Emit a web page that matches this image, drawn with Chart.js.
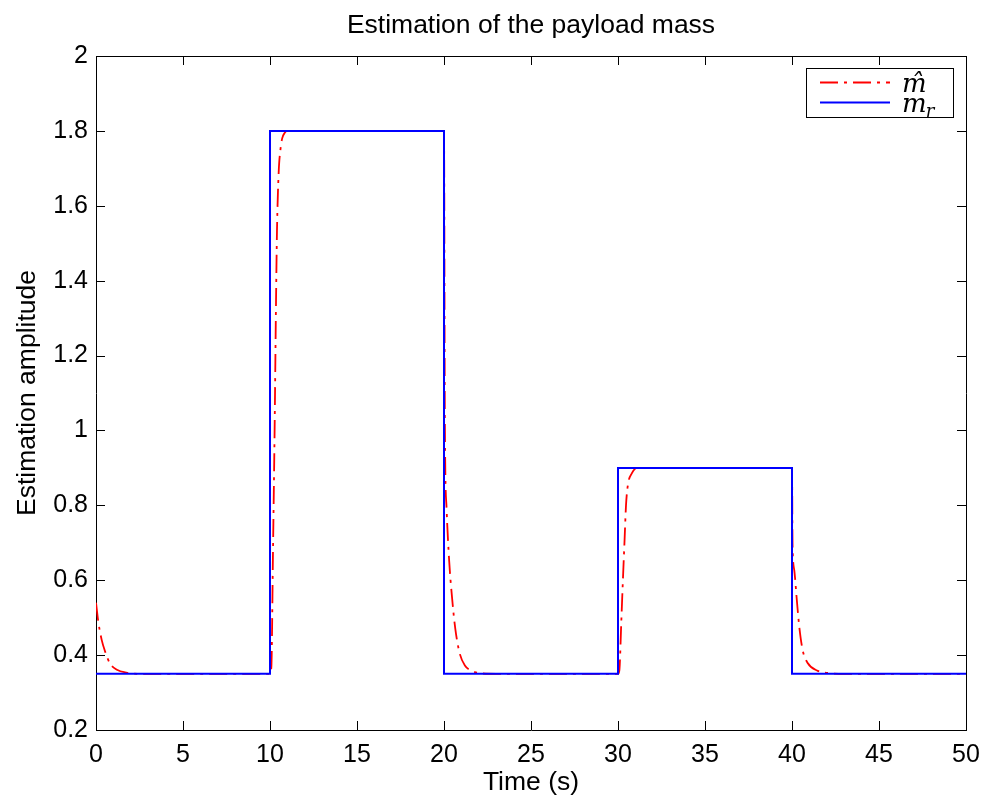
<!DOCTYPE html>
<html>
<head>
<meta charset="utf-8">
<title>Estimation of the payload mass</title>
<script src="https://cdn.jsdelivr.net/npm/chart.js@4.4.1/dist/chart.umd.min.js"></script>
<style>
  html, body { margin: 0; padding: 0; background: #fff; }
  #wrap { width: 986px; height: 805px; }
</style>
</head>
<body>
<div id="wrap"><canvas id="graficoMassa" width="986" height="805"></canvas></div>
<script>
// massa di riferimento (gradini)
const refTime = [0, 10, 10, 20, 20, 30, 30, 40, 40, 50];
const refMass = [0.35, 0.35, 1.8, 1.8, 0.35, 0.35, 0.9, 0.9, 0.35, 0.35];

// massa stimata
const estTime = [0, 0.13, 0.33, 0.52, 0.8, 1.2, 1.75, 2.5, 10, 10.08, 10.17, 10.27, 10.34, 10.4, 10.5, 10.6, 10.7, 10.85, 11,
  20, 20.05, 20.15, 20.3, 20.45, 20.65, 20.9, 21.2, 21.6, 22.2, 23,
  30, 30.08, 30.19, 30.29, 30.38, 30.46, 30.57, 30.8, 31.1,
  40, 40.03, 40.13, 40.29, 40.42, 40.61, 40.9, 41.48, 42.1, 43, 50];
const estMass = [0.54, 0.49, 0.44, 0.41, 0.378, 0.361, 0.353, 0.35, 0.35, 0.37, 0.67, 1.02, 1.32, 1.53, 1.69, 1.75, 1.78, 1.795, 1.8,
  1.8, 1.02, 0.79, 0.65, 0.56, 0.47, 0.405, 0.372, 0.358, 0.351, 0.35,
  0.35, 0.36, 0.49, 0.61, 0.71, 0.80, 0.855, 0.886, 0.9,
  0.9, 0.70, 0.627, 0.54, 0.475, 0.414, 0.379, 0.358, 0.352, 0.35, 0.35];

const xTicks = [0, 5, 10, 15, 20, 25, 30, 35, 40, 45, 50];
const xTickLabels = ['0', '5', '10', '15', '20', '25', '30', '35', '40', '45', '50'];
const yTicks = [0.2, 0.4, 0.6, 0.8, 1, 1.2, 1.4, 1.6, 1.8, 2];
const yTickLabels = ['0.2', '0.4', '0.6', '0.8', '1', '1.2', '1.4', '1.6', '1.8', '2'];

// legenda: m con cappello, m con pedice r
const legendBase = ['m', 'm'];
const legendSub = ['', 'r'];
const legendHat = [true, false];

const fontSans = '"Liberation Sans", Arial, Helvetica, sans-serif';

function toPoints(xs, ys) {
  return xs.map((x, i) => ({ x: x, y: ys[i] }));
}

// tacche interne su tutti e quattro i lati
const tacchePlugin = {
  id: 'tacche',
  afterDatasetsDraw(chart) {
    const ctx = chart.ctx;
    const a = chart.chartArea;
    const sx = chart.scales.x;
    const sy = chart.scales.y;
    const len = 9;
    ctx.save();
    ctx.strokeStyle = '#000';
    ctx.lineWidth = 1;
    ctx.beginPath();
    sx.ticks.forEach(t => {
      const px = Math.round(sx.getPixelForValue(t.value)) + 0.5;
      ctx.moveTo(px, a.bottom); ctx.lineTo(px, a.bottom - len);
      ctx.moveTo(px, a.top); ctx.lineTo(px, a.top + len);
    });
    sy.ticks.forEach(t => {
      const py = Math.round(sy.getPixelForValue(t.value)) + 0.5;
      ctx.moveTo(a.left, py); ctx.lineTo(a.left + len, py);
      ctx.moveTo(a.right, py); ctx.lineTo(a.right - len, py);
    });
    ctx.stroke();
    ctx.restore();
  }
};

// legenda con box, stile matlab
const legendaPlugin = {
  id: 'legendaBox',
  afterDraw(chart) {
    const ctx = chart.ctx;
    const a = chart.chartArea;
    const w = 147, h = 49;
    const x0 = a.right - 13 - w;
    const y0 = a.top + 12;
    ctx.save();
    ctx.fillStyle = '#fff';
    ctx.fillRect(x0, y0, w, h);
    ctx.strokeStyle = '#000';
    ctx.lineWidth = 1;
    ctx.strokeRect(Math.round(x0) + 0.5, Math.round(y0) + 0.5, w, h);

    const ds = chart.data.datasets;
    const rows = [14, 34];
    ds.forEach((d, i) => {
      const ly = y0 + rows[i] + 0.5;
      ctx.strokeStyle = d.borderColor;
      ctx.lineWidth = d.borderWidth;
      ctx.setLineDash(d.borderDash || []);
      ctx.beginPath();
      ctx.moveTo(x0 + 14, ly);
      ctx.lineTo(x0 + 84, ly);
      ctx.stroke();
      ctx.setLineDash([]);

      const tx = x0 + 96;
      const base = y0 + rows[i] + 10;
      ctx.fillStyle = '#000';
      ctx.font = 'italic 26px "DejaVu Serif", serif';
      ctx.textAlign = 'left';
      ctx.textBaseline = 'alphabetic';
      ctx.fillText(legendBase[i], tx, base);
      const mw = ctx.measureText(legendBase[i]).width;
      if (legendHat[i]) {
        ctx.textAlign = 'center';
        ctx.fillText('\u02C6', tx + mw / 2 + 2, base);
      }
      if (legendSub[i]) {
        ctx.font = 'italic 18px "DejaVu Serif", serif';
        ctx.textAlign = 'left';
        ctx.fillText(legendSub[i], tx + mw - 1, base + 5);
      }
    });
    ctx.restore();
  }
};

const ctx = document.getElementById('graficoMassa').getContext('2d');
const graficoMassa = new Chart(ctx, {
  type: 'line',
  data: {
    datasets: [{
      label: 'm_hat',
      data: toPoints(estTime, estMass),
      borderColor: 'rgb(255, 0, 0)',
      borderWidth: 1.8,
      borderDash: [18, 6, 3, 6],
      pointRadius: 0,
      fill: false,
      cubicInterpolationMode: 'monotone',
      order: 1
    }, {
      label: 'm_r',
      data: toPoints(refTime, refMass),
      borderColor: 'rgb(0, 0, 255)',
      borderWidth: 2,
      pointRadius: 0,
      fill: false,
      tension: 0,
      order: 0
    }]
  },
  options: {
    responsive: false,
    animation: false,
    layout: { padding: 0 },
    plugins: {
      legend: { display: false },
      title: { display: false },
      tooltip: { enabled: false }
    },
    scales: {
      x: {
        type: 'linear',
        position: 'bottom',
        min: 0,
        max: 50,
        afterBuildTicks: s => { s.ticks = xTicks.map(v => ({ value: v })); },
        afterFit: s => { s.height = 75; s.paddingLeft = 0; s.paddingRight = 0; },
        grid: { display: false, drawTicks: false },
        border: { display: true, color: '#000', width: 1 },
        ticks: {
          color: '#000',
          padding: 10,
          maxRotation: 0,
          autoSkip: false,
          font: { family: fontSans, size: 25 },
          callback: (v, i) => xTickLabels[i]
        },
        title: {
          display: true,
          text: 'Time (s)',
          color: '#000',
          font: { family: fontSans, size: 26.5 },
          padding: { top: 0, bottom: 6 }
        }
      },
      x2: {
        type: 'linear',
        position: 'top',
        min: 0,
        max: 50,
        afterFit: s => { s.height = 56; s.paddingLeft = 0; s.paddingRight = 0; },
        grid: { display: false, drawTicks: false },
        border: { display: true, color: '#000', width: 1 },
        ticks: { display: false },
        title: {
          display: true,
          text: 'Estimation of the payload mass',
          color: '#000',
          font: { family: fontSans, size: 26.5 },
          padding: { top: 10, bottom: 0 }
        }
      },
      y: {
        type: 'linear',
        position: 'left',
        min: 0.2,
        max: 2,
        afterBuildTicks: s => { s.ticks = yTicks.map(v => ({ value: v })); },
        afterFit: s => { s.width = 96; },
        grid: { display: false, drawTicks: false },
        border: { display: true, color: '#000', width: 1 },
        ticks: {
          color: '#000',
          padding: 8,
          autoSkip: false,
          font: { family: fontSans, size: 25 },
          callback: (v, i) => yTickLabels[i]
        },
        title: {
          display: true,
          text: 'Estimation amplitude',
          color: '#000',
          font: { family: fontSans, size: 26.5 },
          padding: { top: 12, bottom: 0 }
        }
      },
      y2: {
        type: 'linear',
        position: 'right',
        min: 0.2,
        max: 2,
        afterFit: s => { s.width = 20; },
        grid: { display: false, drawTicks: false },
        border: { display: true, color: '#000', width: 1 },
        ticks: { display: false }
      }
    }
  },
  plugins: [tacchePlugin, legendaPlugin]
});
</script>
</body>
</html>
